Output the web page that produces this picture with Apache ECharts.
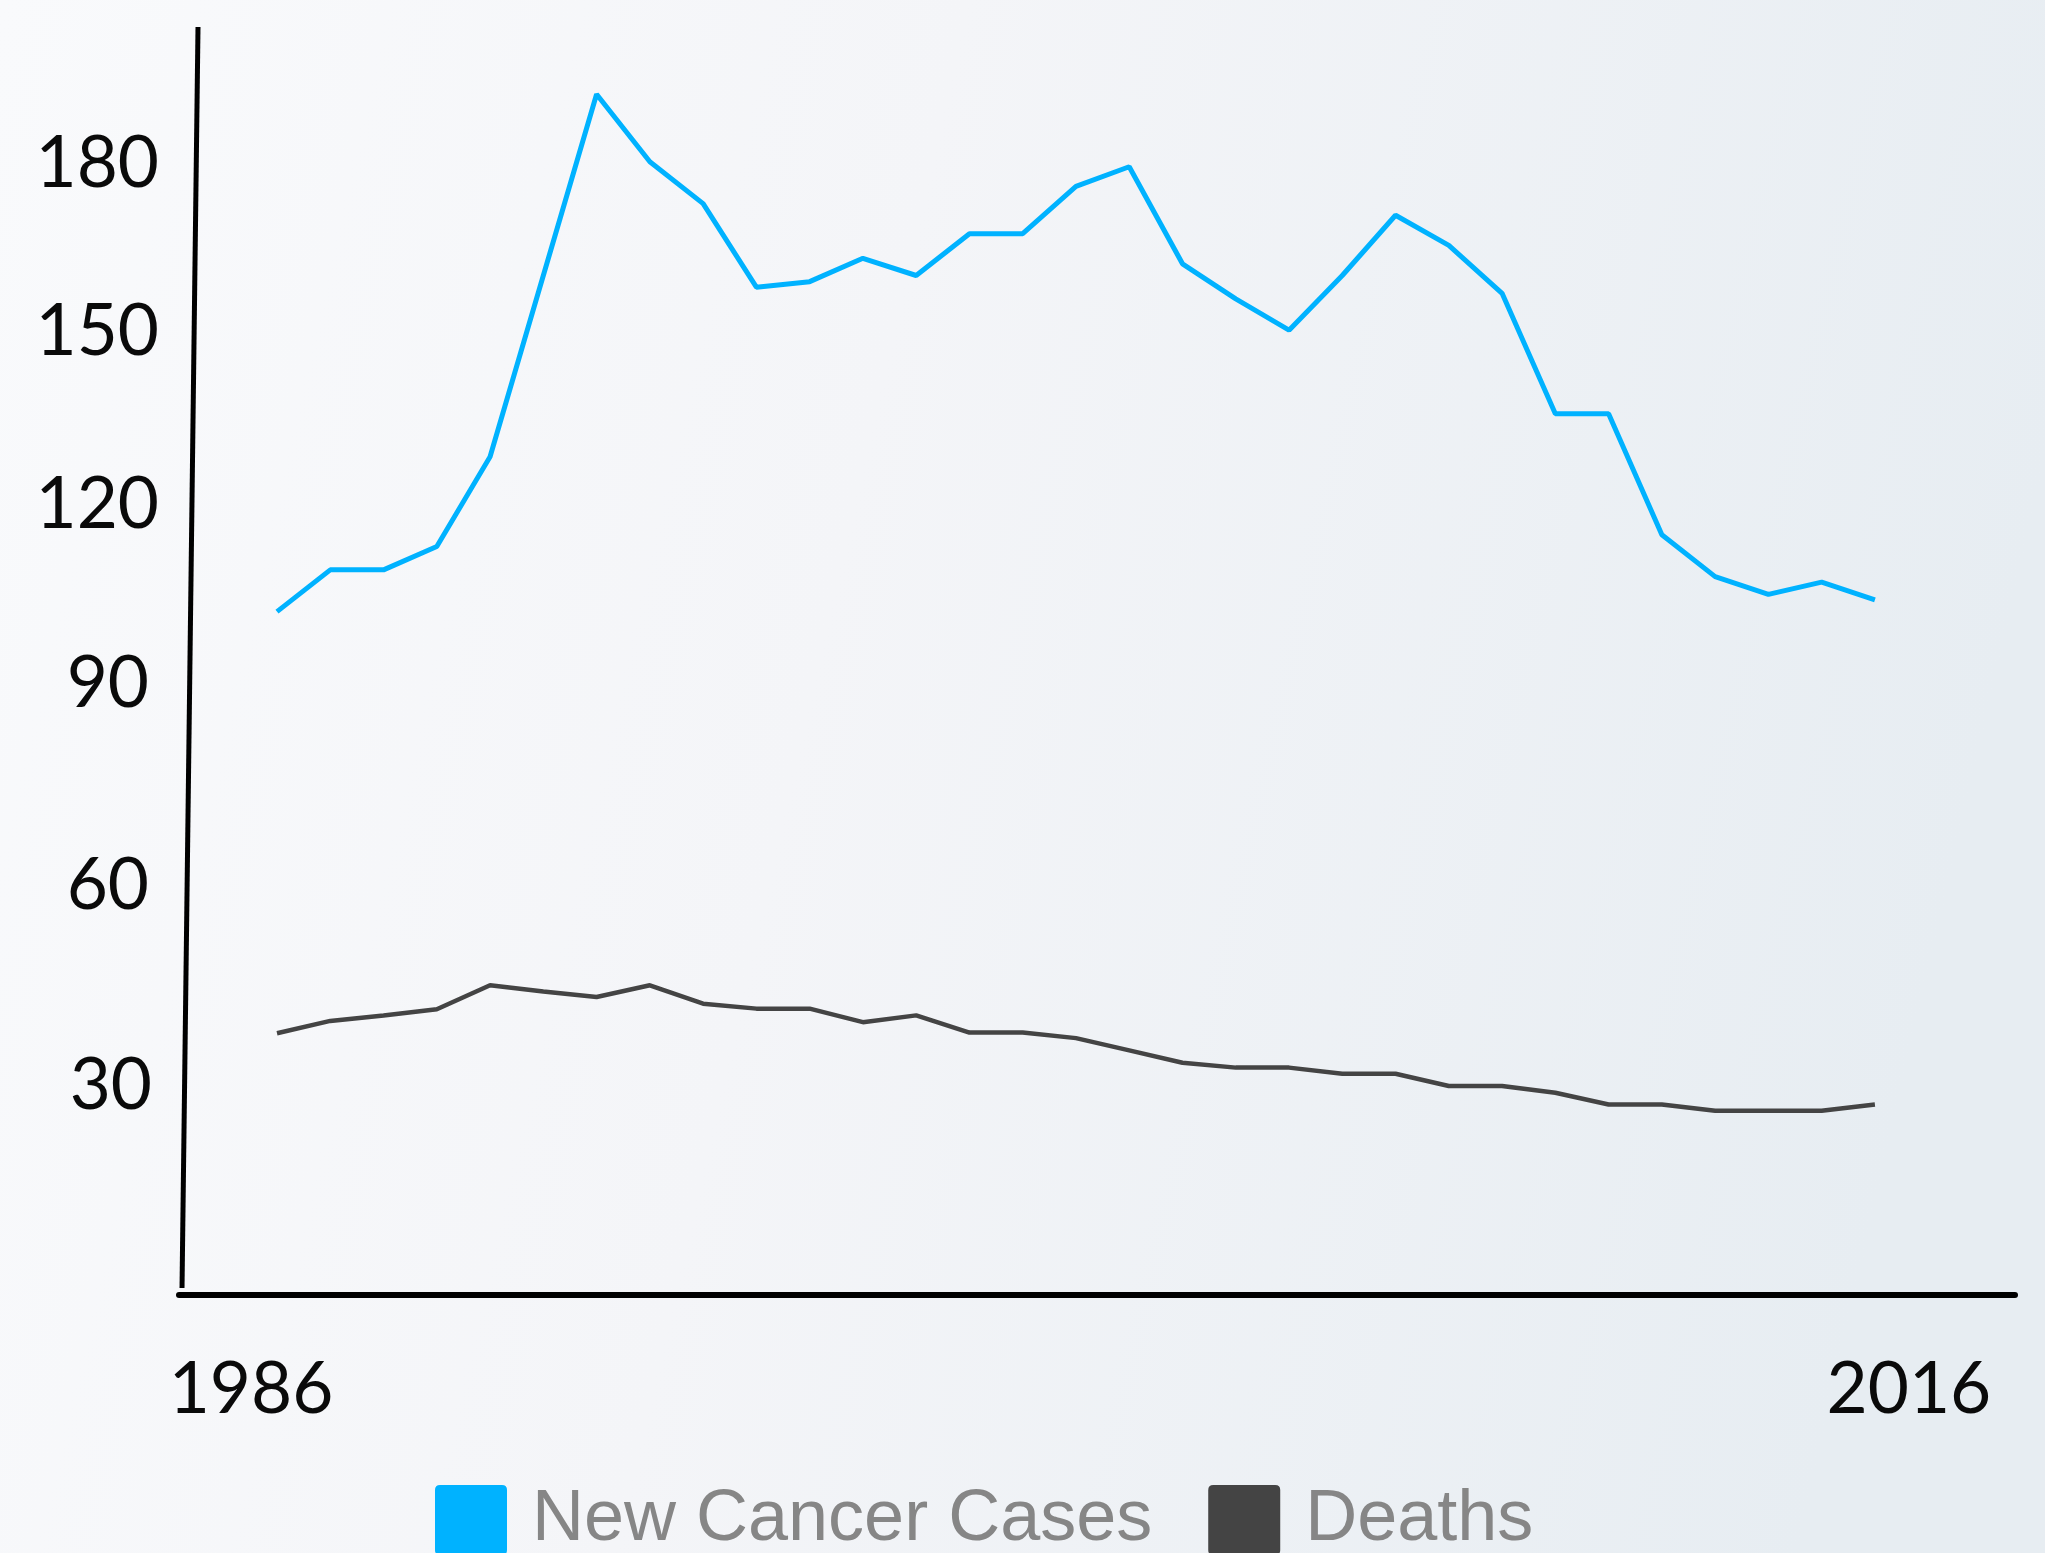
<!DOCTYPE html>
<html>
<head>
<meta charset="utf-8">
<style>
  html, body { margin: 0; padding: 0; overflow: hidden; }
  #chart { width: 2045px; height: 1553px; }
</style>
<script src="https://cdn.jsdelivr.net/npm/echarts@6/dist/echarts.min.js"></script>
</head>
<body>
<div id="chart"></div>
<script>
const years = [1986, 1987, 1988, 1989, 1990, 1991, 1992, 1993, 1994, 1995, 1996,
               1997, 1998, 1999, 2000, 2001, 2002, 2003, 2004, 2005, 2006,
               2007, 2008, 2009, 2010, 2011, 2012, 2013, 2014, 2015, 2016];
const newCancerCases = [104.0, 110.8, 110.8, 114.6, 129.2, 158.7, 188.2, 177.2, 170.4, 156.8, 157.7,
                        161.5, 158.7, 165.5, 165.5, 173.2, 176.4, 160.6, 154.9, 149.8, 158.7,
                        168.5, 163.6, 155.8, 136.2, 136.2, 116.5, 109.7, 106.8, 108.8, 105.9];
const deaths = [35.4, 37.4, 38.3, 39.3, 43.2, 42.2, 41.3, 43.2, 40.2, 39.4, 39.4,
                37.2, 38.3, 35.5, 35.5, 34.6, 32.6, 30.6, 29.8, 29.8, 28.8,
                28.8, 26.8, 26.8, 25.7, 23.8, 23.8, 22.8, 22.8, 22.8, 23.8];
const yTickValues = [30, 60, 90, 120, 150, 180];
const xTickValues = [1986, 2016];
const seriesNames = ['New Cancer Cases', 'Deaths'];

const chart = echarts.init(document.getElementById('chart'), null, { renderer: 'canvas' });

const iconPath = 'path://M5,0 H67 Q72,0 72,5 V65 Q72,70 67,70 H5 Q0,70 0,65 V5 Q0,0 5,0 Z';
const labelFont = { fontFamily: 'Lato', fontSize: 71, color: '#0a0a0a' };
// hand-drawn look: small per-label nudges of the y tick labels
const yLabelStyles = {
  y180: Object.assign({ padding: [40, 0, 0, 0] }, labelFont),
  y150: Object.assign({ padding: [6, 0, 0, 0] }, labelFont),
  y120: Object.assign({ padding: [0, 0, 16, 0] }, labelFont),
  y90:  Object.assign({ padding: [0, 10, 28, 0] }, labelFont),
  y60:  Object.assign({ padding: [8, 10, 0, 0] }, labelFont),
  y30:  Object.assign({ padding: [40, 7, 0, 0] }, labelFont)
};

chart.setOption({
  animation: false,
  backgroundColor: {
    type: 'linear', x: 0, y: 0, x2: 1, y2: 0.3,
    colorStops: [
      { offset: 0, color: '#f9fafc' },
      { offset: 0.45, color: '#f4f5f8' },
      { offset: 1, color: '#e7edf2' }
    ]
  },
  grid: { left: 179, right: 30, top: 26, bottom: 258, containLabel: false },
  legend: {
    left: 435, top: 1484,
    itemWidth: 72, itemHeight: 70, itemGap: 56,
    icon: iconPath,
    padding: 0,
    textStyle: { fontFamily: 'Liberation Sans', fontSize: 72, color: '#868686', padding: [6, 0, 0, 20] },
    data: seriesNames
  },
  xAxis: {
    type: 'value',
    min: 1984.16, max: 2018.63,
    axisLine: { show: true, onZero: false, lineStyle: { color: '#000', width: 6 } },
    axisTick: { show: false },
    splitLine: { show: false },
    axisLabel: {
      customValues: xTickValues,
      margin: 60,
      fontFamily: 'Lato', fontSize: 71, color: '#0a0a0a',
      formatter: function (v) { return v === xTickValues[0] ? '{l|' + v + '}' : '{r|' + v + '}'; },
      rich: {
        l: Object.assign({ padding: [0, 52, 0, 0] }, labelFont),
        r: Object.assign({ padding: [0, 0, 0, 68] }, labelFont)
      }
    }
  },
  yAxis: {
    type: 'value',
    min: -7.2, max: 199.3,
    axisLine: { show: false },
    axisTick: { show: false },
    splitLine: { show: false },
    axisLabel: {
      customValues: yTickValues,
      margin: 20,
      fontFamily: 'Lato', fontSize: 71, color: '#0a0a0a',
      formatter: function (v) { return '{y' + v + '|' + v + '}'; },
      rich: yLabelStyles
    }
  },
  graphic: [{
    type: 'line',
    shape: { x1: 198, y1: 27, x2: 182, y2: 1288 },
    style: { stroke: '#000', lineWidth: 5 },
    silent: true
  }],
  series: [
    {
      name: seriesNames[0], type: 'line', symbol: 'none',
      data: years.map((y, i) => [y, newCancerCases[i]]),
      lineStyle: { color: '#00b2ff', width: 5 },
      itemStyle: { color: '#00b2ff' }
    },
    {
      name: seriesNames[1], type: 'line', symbol: 'none',
      data: years.map((y, i) => [y, deaths[i]]),
      lineStyle: { color: '#444444', width: 4.5 },
      itemStyle: { color: '#444444' }
    }
  ]
});
</script>
</body>
</html>
